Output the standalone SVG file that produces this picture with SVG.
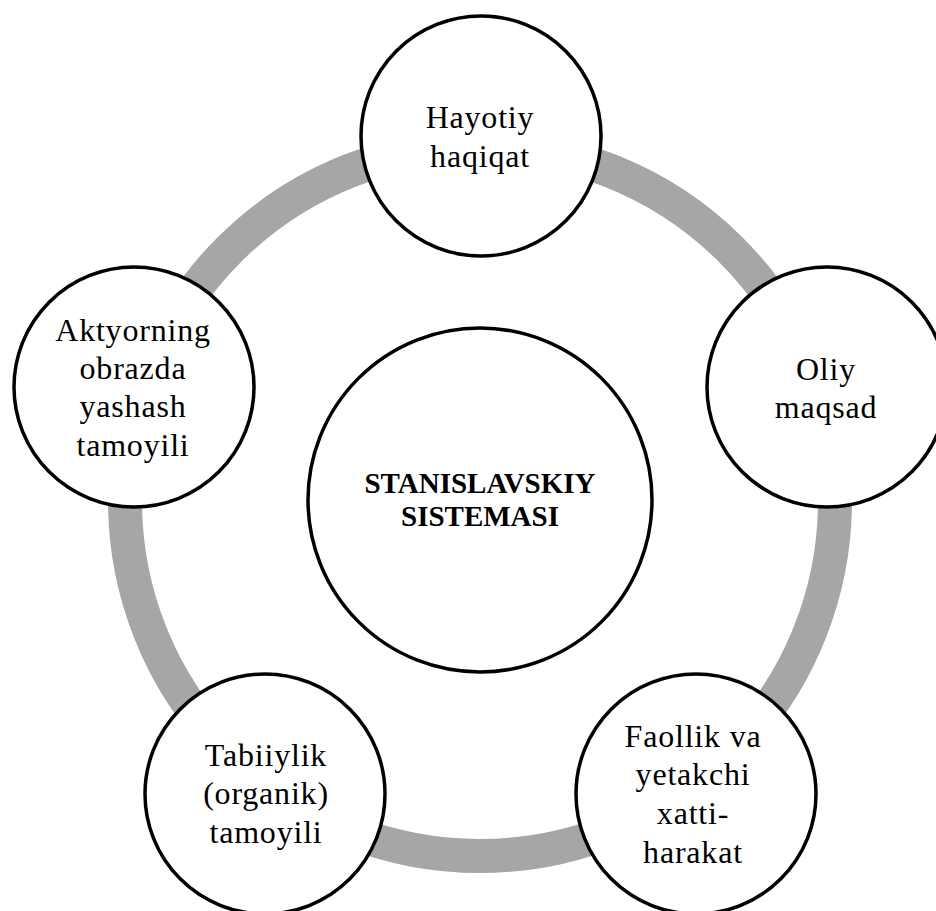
<svg xmlns="http://www.w3.org/2000/svg" width="936" height="911" viewBox="0 0 936 911">
<style>
.node circle{fill:#ffffff;stroke:#000000;stroke-width:3.5}
.lbl{font-family:'Liberation Serif','DejaVu Serif',serif;font-size:32px;letter-spacing:0.8px;fill:#000000;text-anchor:middle}
.ctr{font-family:'Liberation Serif','DejaVu Serif',serif;font-size:29px;font-weight:bold;fill:#000000;text-anchor:middle}
</style>
<rect width="936" height="911" fill="#ffffff"/>
<g id="connectors">
<circle cx="480" cy="501" r="355" fill="none" stroke="#a6a6a6" stroke-width="34"/>
</g>
<g id="center" class="node">
<circle cx="480" cy="500" r="172"/>
<text class="ctr"><tspan x="480" y="493">STANISLAVSKIY</tspan><tspan x="480" y="526">SISTEMASI</tspan></text>
</g>
<g id="n-top" class="node">
<circle cx="481" cy="136" r="120"/>
<text class="lbl"><tspan x="480" y="128">Hayotiy</tspan><tspan x="480" y="167">haqiqat</tspan></text>
</g>
<g id="n-right" class="node">
<circle cx="827" cy="387" r="120"/>
<text class="lbl"><tspan x="826" y="380">Oliy</tspan><tspan x="826" y="418">maqsad</tspan></text>
</g>
<g id="n-bottom-right" class="node">
<circle cx="696" cy="794" r="120"/>
<text class="lbl"><tspan x="693" y="747">Faollik va</tspan><tspan x="693" y="785">yetakchi</tspan><tspan x="693" y="824">xatti-</tspan><tspan x="693" y="863">harakat</tspan></text>
</g>
<g id="n-bottom-left" class="node">
<circle cx="265" cy="794" r="120"/>
<text class="lbl"><tspan x="266" y="766">Tabiiylik</tspan><tspan x="266" y="804">(organik)</tspan><tspan x="266" y="843">tamoyili</tspan></text>
</g>
<g id="n-left" class="node">
<circle cx="134" cy="387" r="120"/>
<text class="lbl"><tspan x="133" y="341">Aktyorning</tspan><tspan x="133" y="379">obrazda</tspan><tspan x="133" y="417">yashash</tspan><tspan x="133" y="456">tamoyili</tspan></text>
</g>
</svg>
